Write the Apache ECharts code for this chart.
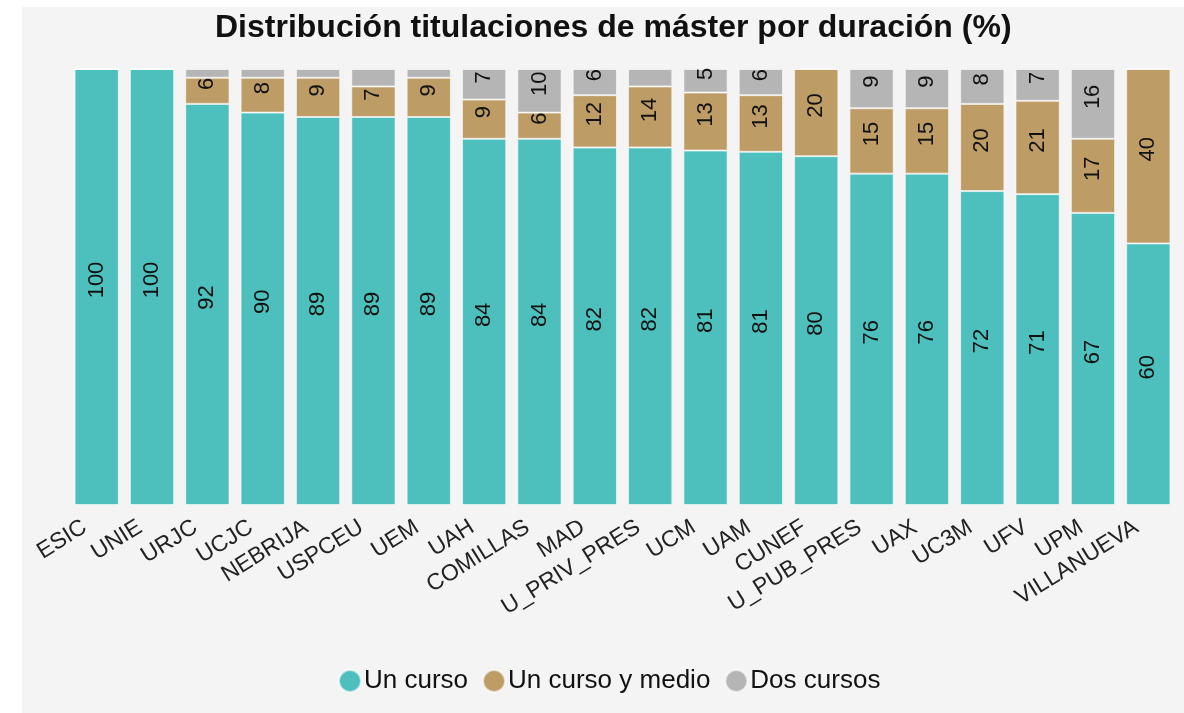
<!DOCTYPE html>
<html>
<head>
<meta charset="utf-8">
<script src="https://cdn.jsdelivr.net/npm/echarts@6/dist/echarts.min.js"></script>
<style>
    html, body { margin: 0; padding: 0; background: #fff; }
    #chart { position: absolute; left: 22px; top: 7px; width: 1162px; height: 706px; background: #f4f4f4; }
</style>
</head>
<body>
<div id="chart"></div>
<script>
    var universidades = ['ESIC', 'UNIE', 'URJC', 'UCJC', 'NEBRIJA', 'USPCEU', 'UEM', 'UAH', 'COMILLAS', 'MAD',
        'U_PRIV_PRES', 'UCM', 'UAM', 'CUNEF', 'U_PUB_PRES', 'UAX', 'UC3M', 'UFV', 'UPM', 'VILLANUEVA'];
    // porcentajes (redondeados en las etiquetas)
    var unCurso = [100, 100, 92, 90, 89, 89, 89, 84, 84, 82, 82, 81.3, 81, 80, 76, 76, 72, 71.3, 67, 60];
    var cursoYMedio = [0, 0, 6, 8, 9, 7, 9, 9, 6, 12, 14, 13.3, 13, 20, 15, 15, 20, 21.4, 17, 40];
    var dosCursos = [0, 0, 2, 2, 2, 4, 2, 7, 10, 6, 4, 5.4, 6, 0, 9, 9, 8, 7.3, 16, 0];

    var font = '"Liberation Sans", Arial, sans-serif';

    var myChart = echarts.init(document.getElementById('chart'));

    function serie(nombre, datos, color) {
        return {
            name: nombre,
            type: 'bar',
            stack: 'total',
            barCategoryGap: '20%',
            data: datos,
            itemStyle: { color: color, borderColor: 'rgba(255,255,255,0.6)', borderWidth: 1 },
            label: {
                show: true,
                position: 'inside',
                rotate: 90,
                offset: [7, 0],
                color: '#111',
                fontSize: 22,
                fontFamily: font,
                formatter: function (p) {
                    return p.value >= 5 ? Math.round(p.value) : '';
                }
            }
        };
    }

    var option = {
        animation: false,
        title: {
            text: 'Distribución titulaciones de máster por duración (%)',
            left: 193,
            top: 5,
            padding: 0,
            textStyle: { color: '#111', fontSize: 32, fontWeight: 'bold', fontFamily: font }
        },
        legend: {
            bottom: 19,
            left: 316,
            padding: 0,
            icon: 'circle',
            itemWidth: 22,
            itemHeight: 22,
            itemGap: 14,
            textStyle: { color: '#111', fontSize: 26, fontFamily: font, padding: [0, 0, 0, -2] },
            data: ['Un curso', 'Un curso y medio', 'Dos cursos']
        },
        grid: { left: 47, right: 8, top: 62, bottom: 208 },
        xAxis: {
            type: 'category',
            data: universidades,
            axisLine: { show: false },
            axisTick: { show: false },
            axisLabel: {
                interval: 0,
                rotate: 32,
                color: '#222',
                fontSize: 23,
                fontFamily: font,
                margin: 13,
                padding: [0, 14, 0, 0]
            }
        },
        yAxis: {
            type: 'value',
            min: 0,
            max: 100,
            show: false
        },
        series: [
            serie('Un curso', unCurso, '#4dc0bd'),
            serie('Un curso y medio', cursoYMedio, '#be9c66'),
            serie('Dos cursos', dosCursos, '#b5b5b5')
        ]
    };
    myChart.setOption(option);
</script>
</body>
</html>
